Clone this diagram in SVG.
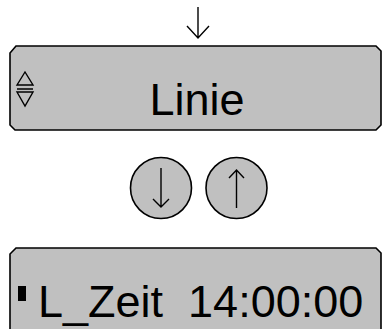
<svg xmlns="http://www.w3.org/2000/svg" width="382" height="329" viewBox="0 0 382 329">
<style>
.box{fill:#c0c0c0;stroke:#000;stroke-width:1.6}
.ln{fill:none;stroke:#000;stroke-width:1.4}
.t{font-family:"Liberation Sans",Arial,sans-serif;font-size:45px;fill:#000}
</style>
<rect width="382" height="329" fill="#fff"/>
<g id="connectors">
<path class="ln" d="M198,7 V38 M187,26 L198,38 L209,26"/>
</g>
<g id="display-top">
<path class="box" d="M16,46 H376 L381,51 V125 L376,130 H15 L10,125 V53 Z"/>
<path class="ln" d="M17,85 L25,72 L33,85 Z M17,89 H33 M17,92 L25,106 L33,92 Z" stroke-width="1.2"/>
<text class="t" x="197" y="115" text-anchor="middle">Linie</text>
</g>
<g id="btn-down">
<circle class="box" cx="161" cy="188" r="30.5"/>
<path class="ln" d="M161,168 V207 M153,199 L161,207 L169,199"/>
</g>
<g id="btn-up">
<circle class="box" cx="236.5" cy="188" r="30.5"/>
<path class="ln" d="M236.5,170 V208 M229,178 L236.5,170 L244,178"/>
</g>
<g id="display-bottom">
<path class="box" d="M16,248 H376 L381,253 V340 H10 V254 Z"/>
<rect x="18" y="286" width="8" height="15" fill="#000"/>
<text class="t" x="38" y="317" xml:space="preserve" style="white-space:pre">L_Zeit  14:00:00</text>
</g>
</svg>
